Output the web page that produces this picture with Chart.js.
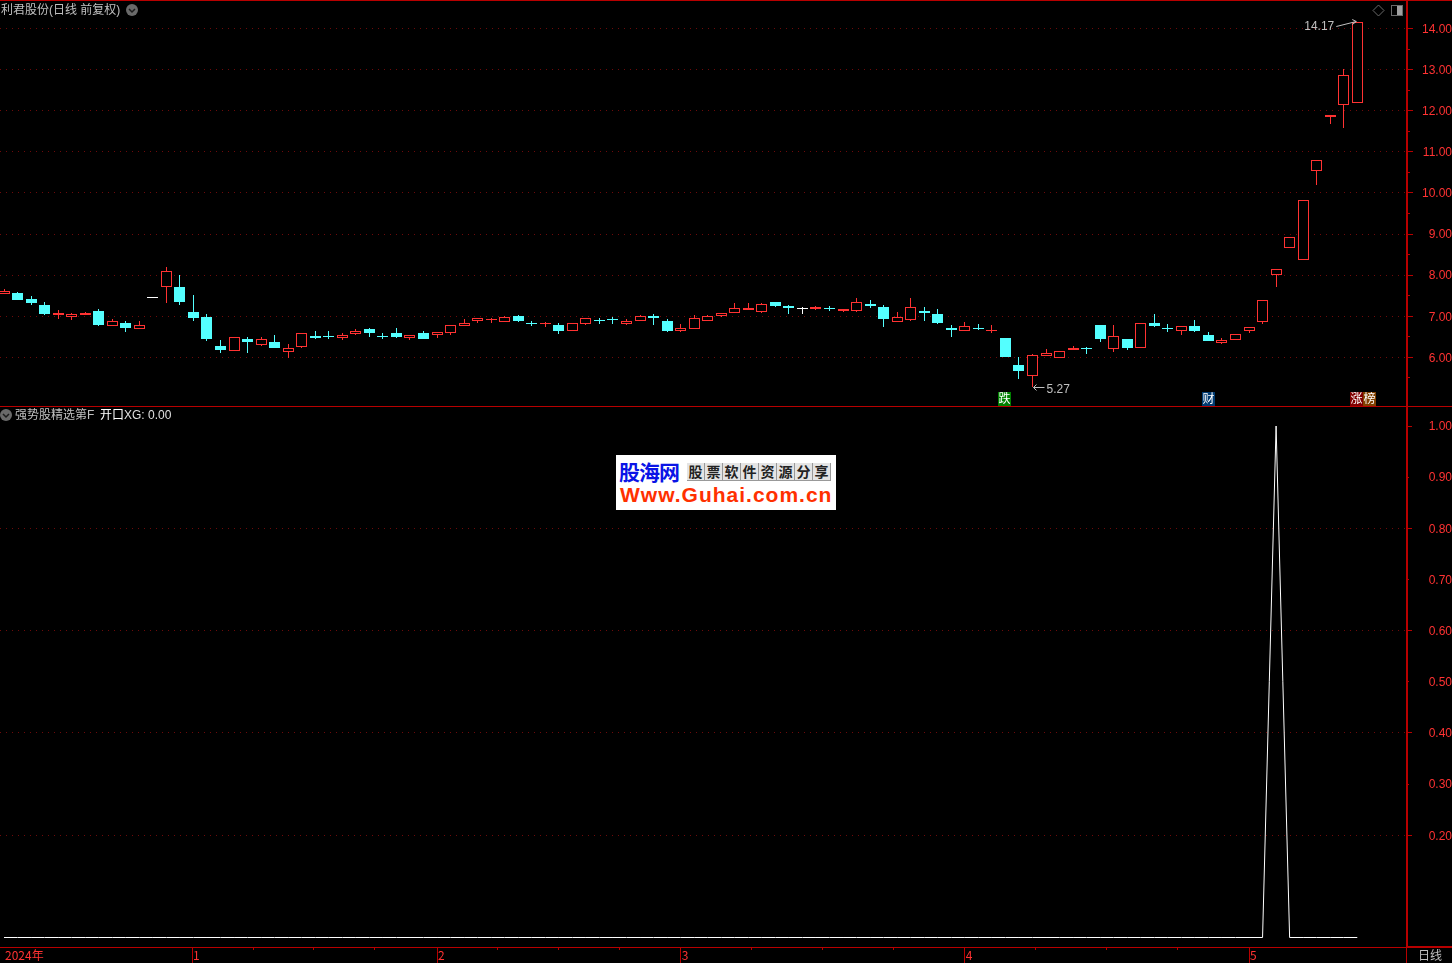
<!DOCTYPE html>
<html>
<head>
<meta charset="utf-8">
<title>利君股份</title>
<script src="https://cdn.jsdelivr.net/npm/chart.js@4/dist/chart.umd.min.js"></script>
<style>
  html, body { margin: 0; padding: 0; background: #000; width: 1452px; height: 963px; overflow: hidden; }
  body { font: 12px "Liberation Sans", "Noto Sans CJK SC", sans-serif; color: #c0c0c0; }
  canvas { position: absolute; left: 0; display: block; }
  .t { position: absolute; white-space: pre; line-height: 14px; }
  .line { position: absolute; background: #b80000; }
  .badge { position: absolute; width: 13px; height: 14px; line-height: 14px; color: #fff; text-align: center; font-size: 12px; }
  #mark { position: absolute; left: 616px; top: 455px; width: 220px; height: 55px; background: #fff; overflow: hidden; }
  #mark .name { position: absolute; left: 3px; top: 3px; font: bold 21px/26px "Noto Sans CJK SC"; color: #0a14e6; letter-spacing: -1px; }
  #mark .slogan { position: absolute; left: 71px; top: 8px; width: 144px; height: 18px; background: #e4e4e4; }
  #mark .slogan span { float: left; width: 17px; height: 17px; border: solid #999; border-width: 0 1px 1px 0; text-align: center; font: bold 14px/17px "Noto Sans CJK SC"; color: #222; }
  #mark .site { position: absolute; left: 4px; top: 28px; font: bold 21px/23px "Liberation Sans"; color: #ff3000; white-space: pre; letter-spacing: 1px; }
</style>
</head>
<body>
<!-- canvases stick out 7px above the frame: the axis keeps half a label of room there -->
<canvas id="priceChart" width="1452" height="420" style="top:-7px"></canvas>
<canvas id="xgChart" width="1452" height="563" style="top:400px"></canvas>

<div class="line" style="left:0;top:0;width:1452px;height:1px"></div>
<div class="line" style="left:0;top:406px;width:1452px;height:1px"></div>
<div class="line" style="left:0;top:947px;width:1406px;height:1px"></div>
<div class="line" style="left:1406px;top:946px;width:46px;height:2px"></div>
<div class="line" style="left:1406px;top:0;width:2px;height:947px"></div>
<div class="line" style="left:1406px;top:947px;width:1px;height:16px"></div>

<div class="t" style="left:1px;top:3px">利君股份(日线 前复权)</div>
<div class="t" style="left:15px;top:408px">强势股精选第F</div>
<div class="t" style="left:100px;top:408px;color:#fff">开口</div>
<div class="t" style="left:124px;top:408px;color:#e0e0e0">XG: 0.00</div>
<div class="t" style="left:1418px;top:949px">日线</div>

<div class="badge" style="left:998px;top:392px;background:#008000">跌</div>
<div class="badge" style="left:1202px;top:392px;background:#003a70">财</div>
<div class="badge" style="left:1350px;top:392px;background:#800000">涨</div>
<div class="badge" style="left:1363px;top:392px;background:#804000">榜</div>

<div id="mark">
  <div class="name">股海网</div>
  <div class="slogan"><span>股</span><span>票</span><span>软</span><span>件</span><span>资</span><span>源</span><span>分</span><span>享</span></div>
  <div class="site">Www.Guhai.com.cn</div>
</div>

<script>
var opens = [7.53,7.57,7.42,7.28,7.02,6.99,7.04,7.13,6.77,6.83,
  6.70,7.46,7.72,7.72,7.11,6.98,6.28,6.16,6.45,6.31,
  6.37,6.14,6.26,6.52,6.52,6.46,6.58,6.68,6.51,6.59,
  6.46,6.59,6.54,6.60,6.77,6.89,6.92,6.87,7.00,6.84,
  6.80,6.79,6.63,6.82,6.92,6.93,6.82,6.89,7.01,6.89,
  6.65,6.70,6.89,7.00,7.07,7.15,7.11,7.34,7.25,7.20,
  7.18,7.20,7.14,7.14,7.30,7.22,6.87,6.92,7.13,7.06,
  6.72,6.65,6.72,6.63,6.47,5.81,5.55,6.04,5.99,6.19,
  6.22,6.79,6.21,6.45,6.24,6.84,6.72,6.65,6.76,6.54,
  6.36,6.43,6.63,6.85,8.00,8.65,8.38,10.53,11.85,12.14,12.19];
var closes = [7.61,7.40,7.33,7.06,7.07,7.05,7.08,6.79,6.88,6.72,
  6.78,7.46,8.10,7.35,6.96,6.45,6.18,6.49,6.37,6.44,
  6.23,6.24,6.59,6.47,6.50,6.54,6.63,6.59,6.50,6.50,
  6.54,6.45,6.61,6.78,6.83,6.95,6.93,6.98,6.89,6.82,
  6.84,6.65,6.83,6.95,6.90,6.92,6.88,7.00,6.96,6.64,
  6.71,6.95,7.00,7.07,7.20,7.20,7.29,7.25,7.20,7.20,
  7.22,7.18,7.17,7.34,7.24,6.93,6.98,7.22,7.08,6.84,
  6.67,6.76,6.69,6.67,6.01,5.67,6.06,6.10,6.15,6.23,
  6.20,6.45,6.51,6.23,6.83,6.76,6.68,6.76,6.64,6.41,
  6.43,6.56,6.73,7.39,8.15,8.93,9.83,10.80,11.89,12.88,14.17];
var highs = [7.66,7.59,7.50,7.35,7.15,7.07,7.11,7.18,6.93,6.89,
  6.89,7.46,8.20,8.01,7.52,7.06,6.42,6.49,6.50,6.50,
  6.54,6.33,6.59,6.64,6.64,6.59,6.68,6.72,6.59,6.72,
  6.54,6.64,6.61,6.78,6.93,6.95,6.96,7.01,7.03,6.89,
  6.86,6.84,6.83,6.95,6.96,6.98,6.93,7.02,7.06,6.93,
  6.81,7.03,7.02,7.07,7.33,7.33,7.33,7.34,7.28,7.23,
  7.25,7.25,7.17,7.45,7.40,7.28,7.11,7.45,7.23,7.18,
  6.79,6.86,6.81,6.79,6.47,6.01,6.08,6.20,6.15,6.28,
  6.25,6.79,6.78,6.45,6.83,7.06,6.81,6.76,6.91,6.61,
  6.47,6.56,6.73,7.39,8.15,8.93,9.83,10.80,11.89,13.02,14.17];
var lows = [7.53,7.40,7.28,7.03,6.93,6.91,7.02,6.76,6.77,6.62,
  6.70,7.46,7.33,7.28,6.89,6.40,6.11,6.16,6.11,6.28,
  6.23,5.99,6.23,6.45,6.45,6.42,6.54,6.50,6.45,6.47,
  6.43,6.45,6.47,6.54,6.77,6.84,6.84,6.87,6.86,6.76,
  6.74,6.57,6.63,6.79,6.81,6.81,6.79,6.89,6.79,6.62,
  6.62,6.70,6.89,6.97,7.07,7.15,7.08,7.23,7.06,7.06,
  7.15,7.13,7.11,7.11,7.20,6.74,6.87,6.89,6.89,6.81,
  6.50,6.65,6.67,6.59,6.01,5.47,5.27,6.04,5.99,6.19,
  6.08,6.37,6.13,6.18,6.24,6.74,6.62,6.54,6.62,6.39,
  6.33,6.43,6.59,6.81,7.70,8.65,8.38,10.20,11.67,11.59,12.19];
var xgValues = [0,0,0,0,0,0,0,0,0,0,
  0,0,0,0,0,0,0,0,0,0,
  0,0,0,0,0,0,0,0,0,0,
  0,0,0,0,0,0,0,0,0,0,
  0,0,0,0,0,0,0,0,0,0,
  0,0,0,0,0,0,0,0,0,0,
  0,0,0,0,0,0,0,0,0,0,
  0,0,0,0,0,0,0,0,0,0,
  0,0,0,0,0,0,0,0,0,0,
  0,0,0,0,1,0,0,0,0,0,0];

var priceTicks = [14,13,12,11,10,9,8,7,6];
var priceMinorTicks = [13.5,12.5,11.5,10.5,9.5,8.5,7.5,6.5,5.5];
var xgTicks = [1,0.9,0.8,0.7,0.6,0.5,0.4,0.3,0.2];
var xgLongTicks = [1,0.8,0.6,0.4,0.2];
var xgGridTicks = [0.8,0.6,0.4,0.2];
var monthTicks = [0,13.9,32,50,71,92];
var monthLabels = ["2024年","1","2","3","4","5"];
var weekTicks = [18.4,22.9,27.4,36.5,41,45.5,55.25,60.5,65.75,76.25,81.5,86.75];

var RED = "#ff3232";
var CYAN = "#54ffff";
var AXIS_RED = "#b80000";
var GRID_RED = "#6e0a0a";
var GREY = "#c0c0c0";
var FONT = "Liberation Sans";
var TOP_PAD = 7;

function candleColor(i) {
  if (closes[i] > opens[i]) return RED;
  if (closes[i] < opens[i]) return CYAN;
  return "#ffffff";
}

var colors = [], bodyFill = [], bodies = [], wicks = [];
for (var i = 0; i < opens.length; ++i) {
  colors[i] = candleColor(i);
  bodyFill[i] = closes[i] > opens[i] ? "#000000" : colors[i]; // up days are hollow
  bodies[i] = {x: i, y: [opens[i], closes[i]]};
  wicks[i] = {x: i, y: [lows[i], highs[i]]};
}
var xgPoints = xgValues.map(function (v, i) { return {x: i, y: v}; });

// the terminal draws on whole pixels, so snap the bars before they are painted
var snapBars = {
  id: "snapBars",
  beforeDatasetsDraw: function (chart) {
    chart.getSortedVisibleDatasetMetas().forEach(function (meta) {
      meta.data.forEach(function (bar) {
        bar.x = Math.floor(bar.x) + 0.5;
        var top = Math.round(Math.min(bar.y, bar.base));
        var bottom = Math.round(Math.max(bar.y, bar.base));
        if (bottom === top) bottom = top + 1;
        bar.y = top;
        bar.base = bottom;
      });
    });
  }
};

function circleIcon(ctx, x, y) {
  ctx.save();
  ctx.fillStyle = "#6a6a6a";
  ctx.beginPath();
  ctx.arc(x, y, 6, 0, Math.PI * 2);
  ctx.fill();
  ctx.strokeStyle = "#1c1c1c";
  ctx.lineWidth = 1.5;
  ctx.beginPath();
  ctx.moveTo(x - 3, y - 1);
  ctx.lineTo(x, y + 2);
  ctx.lineTo(x + 3, y - 1);
  ctx.stroke();
  ctx.restore();
}

function yTicks(ctx, scale, values, length) {
  ctx.strokeStyle = AXIS_RED;
  ctx.lineWidth = 1;
  values.forEach(function (v) {
    var y = Math.floor(scale.getPixelForValue(v)) + 0.5;
    ctx.beginPath();
    ctx.moveTo(scale.left, y);
    ctx.lineTo(scale.left + length, y);
    ctx.stroke();
  });
}

var priceMarks = {
  id: "priceMarks",
  afterDraw: function (chart) {
    var ctx = chart.ctx, x = chart.scales.x, y = chart.scales.y;
    ctx.save();
    yTicks(ctx, y, priceTicks, 7);
    yTicks(ctx, y, priceMinorTicks, 4);

    ctx.font = "12px " + FONT;
    ctx.fillStyle = GREY;
    ctx.strokeStyle = GREY;
    ctx.textBaseline = "middle";
    ctx.lineWidth = 1;

    // highest price note
    var hx = x.getPixelForValue(100), hy = y.getPixelForValue(14.17);
    ctx.textAlign = "right";
    ctx.fillText("14.17", hx - 23, hy + 5);
    ctx.beginPath();
    ctx.moveTo(hx - 21, hy + 5);
    ctx.lineTo(hx - 1, hy);
    ctx.moveTo(hx - 1, hy);
    ctx.lineTo(hx - 5, hy - 2);
    ctx.moveTo(hx - 1, hy);
    ctx.lineTo(hx - 5, hy + 3);
    ctx.stroke();

    // lowest price note
    var lx = x.getPixelForValue(76), ly = Math.floor(y.getPixelForValue(5.27)) + 0.5;
    ctx.textAlign = "left";
    ctx.fillText("5.27", lx + 14, ly + 2);
    ctx.beginPath();
    ctx.moveTo(lx + 1, ly);
    ctx.lineTo(lx + 12, ly);
    ctx.moveTo(lx + 1, ly);
    ctx.lineTo(lx + 4, ly - 3);
    ctx.moveTo(lx + 1, ly);
    ctx.lineTo(lx + 4, ly + 3);
    ctx.stroke();

    // header icons
    circleIcon(ctx, 132, 10 + TOP_PAD);
    ctx.strokeStyle = "#6a6a6a";
    ctx.beginPath();
    ctx.moveTo(1378.5, 5 + TOP_PAD);
    ctx.lineTo(1384, 10.5 + TOP_PAD);
    ctx.lineTo(1378.5, 16 + TOP_PAD);
    ctx.lineTo(1373, 10.5 + TOP_PAD);
    ctx.closePath();
    ctx.stroke();
    ctx.lineWidth = 1;
    ctx.strokeRect(1391.5, 5.5 + TOP_PAD, 11, 10);
    ctx.fillStyle = "#a0a0a0";
    ctx.fillRect(1397, 6 + TOP_PAD, 5, 9);
    ctx.restore();
  }
};

var xgMarks = {
  id: "xgMarks",
  afterDraw: function (chart) {
    var ctx = chart.ctx, x = chart.scales.x, y = chart.scales.y;
    ctx.save();
    xgTicks.forEach(function (v) {
      yTicks(ctx, y, [v], xgLongTicks.indexOf(v) >= 0 ? 6 : 3);
    });
    ctx.strokeStyle = AXIS_RED;
    monthTicks.forEach(function (v, i) {
      if (i === 0) return; // the year label has no mark
      var px = Math.floor(x.getPixelForValue(v)) + 0.5;
      ctx.beginPath();
      ctx.moveTo(px, x.top);
      ctx.lineTo(px, x.top + 16);
      ctx.stroke();
    });
    weekTicks.forEach(function (v) {
      var px = Math.floor(x.getPixelForValue(v)) + 0.5;
      ctx.beginPath();
      ctx.moveTo(px, x.top);
      ctx.lineTo(px, x.top + 3);
      ctx.stroke();
    });
    circleIcon(ctx, 6, 8 + TOP_PAD);
    ctx.restore();
  }
};

// same candle spacing in both panes: index 0 at x=4, index 100 at x=1357
var xMin = -0.296, xMax = 103.6;

var priceChart = new Chart(document.getElementById("priceChart"), {
  type: "bar",
  data: {
    datasets: [{
      label: "body",
      data: bodies,
      order: 1,
      grouped: false,
      barThickness: 11,
      inflateAmount: 0,
      backgroundColor: bodyFill,
      borderColor: colors,
      borderWidth: 1,
      borderSkipped: false
    }, {
      label: "wick",
      data: wicks,
      order: 2,
      grouped: false,
      barThickness: 1,
      inflateAmount: 0,
      backgroundColor: colors,
      borderWidth: 0
    }]
  },
  options: {
    responsive: false,
    animation: false,
    layout: {padding: 0, autoPadding: false},
    plugins: {legend: {display: false}, tooltip: {enabled: false}},
    scales: {
      x: {type: "linear", offset: false, min: xMin, max: xMax, display: false},
      y: {
        position: "right",
        min: 4.817,
        max: 14.693,
        afterFit: function (scale) { scale.width = 46; },
        afterBuildTicks: function (scale) {
          scale.ticks = priceTicks.map(function (v) { return {value: v}; });
        },
        border: {display: false, dash: [1, 5]},
        grid: {color: GRID_RED, lineWidth: 1, tickLength: 15, tickColor: "transparent"},
        ticks: {
          color: RED,
          padding: 0,
          labelOffset: 1,
          crossAlign: "far",
          font: {family: FONT, size: 12, lineHeight: 14 / 12},
          callback: function (v) { return v.toFixed(2); }
        }
      }
    }
  },
  plugins: [snapBars, priceMarks]
});

var xgChart = new Chart(document.getElementById("xgChart"), {
  type: "line",
  data: {
    datasets: [{
      label: "XG",
      data: xgPoints,
      borderColor: "#ffffff",
      borderWidth: 1,
      pointRadius: 0,
      tension: 0
    }]
  },
  options: {
    responsive: false,
    animation: false,
    layout: {padding: 0, autoPadding: false},
    plugins: {legend: {display: false}, tooltip: {enabled: false}},
    scales: {
      x: {
        type: "linear",
        min: xMin,
        max: xMax,
        afterFit: function (scale) { scale.height = 16; },
        afterBuildTicks: function (scale) {
          scale.ticks = monthTicks.map(function (v) { return {value: v}; });
        },
        border: {display: false},
        grid: {display: false, drawTicks: false},
        ticks: {
          color: RED,
          padding: 2,
          align: "start",
          labelOffset: 1,
          maxRotation: 0,
          autoSkip: false,
          font: {family: "Noto Sans CJK SC", size: 12, lineHeight: 1.1},
          callback: function (v, i) { return monthLabels[i]; }
        }
      },
      y: {
        position: "right",
        min: -0.01857,
        max: 1.03717,
        afterFit: function (scale) { scale.width = 46; },
        afterBuildTicks: function (scale) {
          scale.ticks = xgTicks.map(function (v) { return {value: v}; });
        },
        border: {display: false, dash: [1, 5]},
        grid: {
          color: function (c) {
            return xgGridTicks.indexOf(c.tick.value) >= 0 ? GRID_RED : "transparent";
          },
          lineWidth: 1,
          tickLength: 23,
          tickColor: "transparent"
        },
        ticks: {
          color: RED,
          padding: 0,
          labelOffset: 1,
          crossAlign: "far",
          font: {family: FONT, size: 12, lineHeight: 14 / 12},
          callback: function (v) { return v.toFixed(2); }
        }
      }
    }
  },
  plugins: [xgMarks]
});
</script>
</body>
</html>
